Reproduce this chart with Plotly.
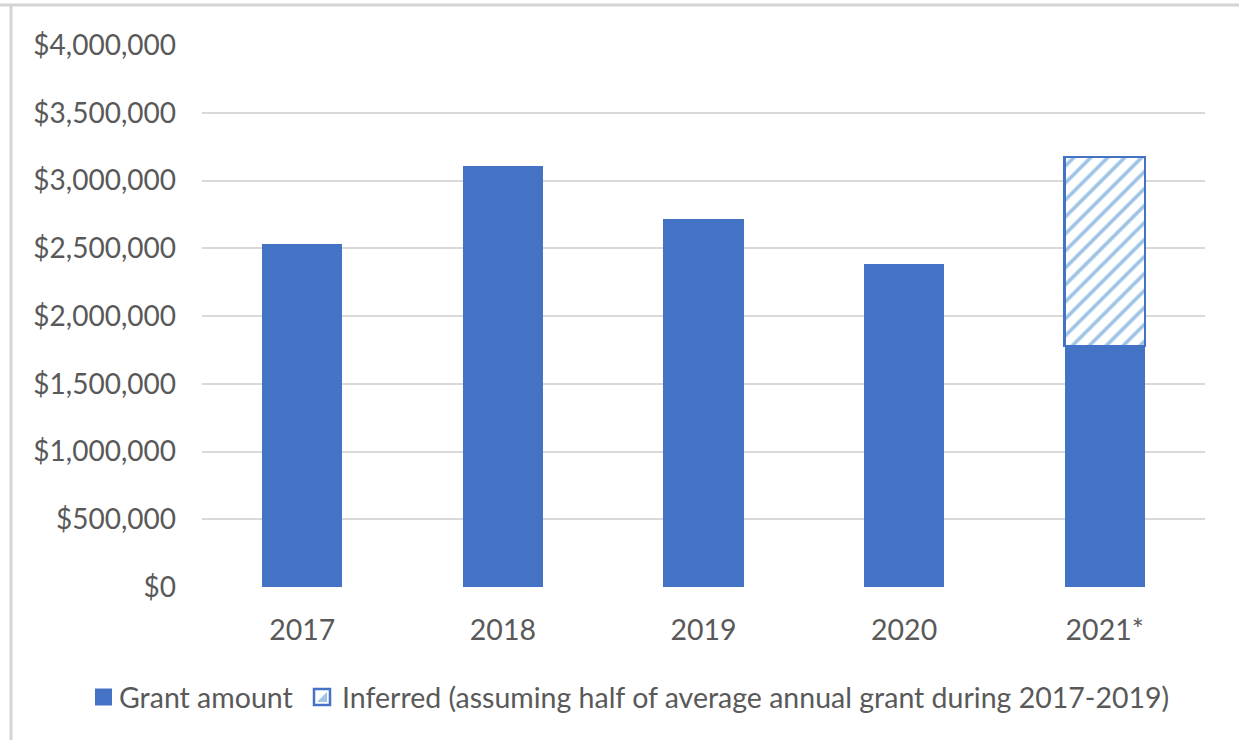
import plotly.graph_objects as go

# Annual grant totals (USD); 2021 is partial
years = ["2017", "2018", "2019", "2020", "2021*"]
grant_amount = [2530000, 3110000, 2715000, 2385000, 1780000]

# Inferred remainder for 2021
inferred_years = ["2021*"]
inferred_amount = [1395000]

y_tick_values = [0, 500000, 1000000, 1500000, 2000000, 2500000, 3000000, 3500000, 4000000]
y_tick_labels = ["$0", "$500,000", "$1,000,000", "$1,500,000", "$2,000,000",
                 "$2,500,000", "$3,000,000", "$3,500,000", "$4,000,000"]

series_names = ["Grant amount",
                "Inferred (assuming half of average annual grant during 2017-2019)"]

BLUE = "#4472C4"
LIGHT_BLUE = "#9DC3E6"
GRID = "#D9D9D9"
TEXT = "#595959"
FRAME = "#D4D4D4"
FONT = "Lato"

W, H = 1239, 740
ML, MR, MT, MB = 202, 34, 45, 153
PW, PH = W - ML - MR, H - MT - MB


def px(x):
    """Pixel column -> paper x."""
    return (x - ML) / PW


def py(y):
    """Pixel row -> paper y."""
    return (H - MB - y) / PH


fig = go.Figure()
fig.add_trace(go.Bar(
    x=years, y=grant_amount, name=series_names[0],
    marker=dict(color=BLUE, line=dict(width=0)),
))
fig.add_trace(go.Bar(
    x=inferred_years, y=inferred_amount, name=series_names[1],
    marker=dict(
        color="white",
        line=dict(color=BLUE, width=2.5),
        pattern=dict(shape="/", fgcolor=LIGHT_BLUE, bgcolor="white",
                     size=12, solidity=0.3, fillmode="replace"),
    ),
))

# Legend drawn by hand so both entries sit on one row under the axis
legend_y = 697
shapes = [
    # outer frame edges
    dict(type="line", xref="paper", yref="paper", x0=px(0), x1=px(W), y0=py(5), y1=py(5),
         line=dict(color=FRAME, width=3)),
    dict(type="line", xref="paper", yref="paper", x0=px(11), x1=px(11), y0=py(5), y1=py(H + 5),
         line=dict(color=FRAME, width=3)),
    # legend key: solid bar
    dict(type="rect", xref="paper", yref="paper", x0=px(95), x1=px(112),
         y0=py(legend_y + 8.5), y1=py(legend_y - 8.5),
         fillcolor=BLUE, line=dict(width=0)),
    # legend key: hatched bar
    dict(type="rect", xref="paper", yref="paper", x0=px(314), x1=px(330),
         y0=py(legend_y + 8), y1=py(legend_y - 8),
         fillcolor="white", line=dict(color=BLUE, width=2.5)),
    dict(type="path", xref="paper", yref="paper",
         path=f"M {px(317)},{py(legend_y + 5)} L {px(327)},{py(legend_y + 5)} L {px(327)},{py(legend_y - 5)} Z",
         fillcolor=LIGHT_BLUE, line=dict(width=0)),
]
annotations = [
    dict(xref="paper", yref="paper", x=px(117), y=py(legend_y), text=series_names[0],
         showarrow=False, xanchor="left", yanchor="middle",
         font=dict(family=FONT, size=28.5, color=TEXT)),
    dict(xref="paper", yref="paper", x=px(340), y=py(legend_y), text=series_names[1],
         showarrow=False, xanchor="left", yanchor="middle",
         font=dict(family=FONT, size=28.5, color=TEXT)),
]

fig.update_layout(
    width=W, height=H,
    margin=dict(l=ML, r=MR, t=MT, b=MB),
    paper_bgcolor="white", plot_bgcolor="white",
    barmode="stack", bargap=0.6,
    font=dict(family=FONT, size=28, color=TEXT),
    showlegend=False,
    xaxis=dict(
        type="category", showgrid=False, zeroline=False, showline=False,
        ticks="", ticklabelstandoff=23,
        tickfont=dict(family=FONT, size=28.5, color=TEXT),
    ),
    yaxis=dict(
        range=[0, 4000000], tickvals=y_tick_values, ticktext=y_tick_labels,
        showgrid=True, gridcolor=GRID, gridwidth=2,
        zeroline=False, showline=False, ticks="", ticklabelstandoff=25,
        tickfont=dict(family=FONT, size=28, color=TEXT),
    ),
    shapes=shapes,
    annotations=annotations,
)

fig.write_html("out.html")
